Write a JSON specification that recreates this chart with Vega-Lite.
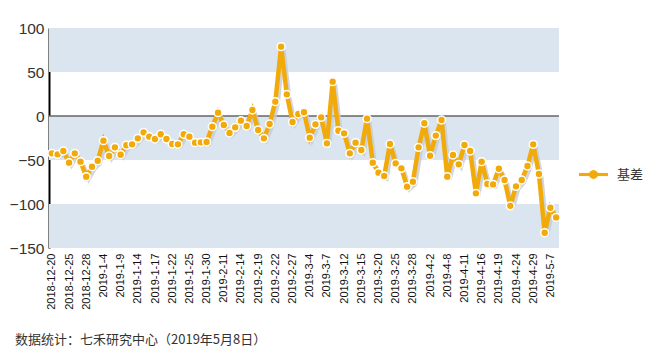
{
  "$schema": "https://vega.github.io/schema/vega-lite/v6.json",
  "width": 510,
  "height": 220,
  "autosize": {"type": "none"},
  "padding": {"left": 49, "top": 28, "right": 92, "bottom": 104},
  "background": "white",
  "config": {
    "view": {"stroke": null},
    "font": "Liberation Sans",
    "axisY": {
      "title": null,
      "values": [-150, -100, -50, 0, 50, 100],
      "labelFontSize": 15.5,
      "labelFontWeight": "normal",
      "labelColor": "#333333",
      "labelPadding": 5,
      "ticks": false,
      "grid": false,
      "domainColor": "#000000",
      "domainWidth": 2
    }
  },
  "title": {
    "text": "数据统计：七禾研究中心（2019年5月8日）",
    "orient": "bottom",
    "anchor": "start",
    "frame": "group",
    "offset": 25,
    "dx": -34,
    "font": "Noto Sans CJK SC",
    "fontSize": 13,
    "fontWeight": "normal",
    "color": "#333333"
  },
  "datasets": {
    "bands": [
      {"lo": 50, "hi": 100},
      {"lo": -50, "hi": 0},
      {"lo": -150, "hi": -100}
    ],
    "main": [
      {"d": "2018-12-20", "v": -42.4, "s": "基差"},
      {"d": "2018-12-21", "v": -43.6, "s": "基差"},
      {"d": "2018-12-24", "v": -39.8, "s": "基差"},
      {"d": "2018-12-25", "v": -53.0, "s": "基差"},
      {"d": "2018-12-26", "v": -42.4, "s": "基差"},
      {"d": "2018-12-27", "v": -51.9, "s": "基差"},
      {"d": "2018-12-28", "v": -68.9, "s": "基差"},
      {"d": "2019-1-2", "v": -57.6, "s": "基差"},
      {"d": "2019-1-3", "v": -50.8, "s": "基差"},
      {"d": "2019-1-4", "v": -28.0, "s": "基差"},
      {"d": "2019-1-7", "v": -45.5, "s": "基差"},
      {"d": "2019-1-8", "v": -35.6, "s": "基差"},
      {"d": "2019-1-9", "v": -43.9, "s": "基差"},
      {"d": "2019-1-10", "v": -33.3, "s": "基差"},
      {"d": "2019-1-11", "v": -32.2, "s": "基差"},
      {"d": "2019-1-14", "v": -25.4, "s": "基差"},
      {"d": "2019-1-15", "v": -18.6, "s": "基差"},
      {"d": "2019-1-16", "v": -23.5, "s": "基差"},
      {"d": "2019-1-17", "v": -26.1, "s": "基差"},
      {"d": "2019-1-18", "v": -20.8, "s": "基差"},
      {"d": "2019-1-21", "v": -26.1, "s": "基差"},
      {"d": "2019-1-22", "v": -31.8, "s": "基差"},
      {"d": "2019-1-23", "v": -32.2, "s": "基差"},
      {"d": "2019-1-24", "v": -20.8, "s": "基差"},
      {"d": "2019-1-25", "v": -23.5, "s": "基差"},
      {"d": "2019-1-28", "v": -30.3, "s": "基差"},
      {"d": "2019-1-29", "v": -29.9, "s": "基差"},
      {"d": "2019-1-30", "v": -29.5, "s": "基差"},
      {"d": "2019-1-31", "v": -12.1, "s": "基差"},
      {"d": "2019-2-1", "v": 3.8, "s": "基差"},
      {"d": "2019-2-11", "v": -10.2, "s": "基差"},
      {"d": "2019-2-12", "v": -19.3, "s": "基差"},
      {"d": "2019-2-13", "v": -12.9, "s": "基差"},
      {"d": "2019-2-14", "v": -5.3, "s": "基差"},
      {"d": "2019-2-15", "v": -11.4, "s": "基差"},
      {"d": "2019-2-18", "v": 6.8, "s": "基差"},
      {"d": "2019-2-19", "v": -15.9, "s": "基差"},
      {"d": "2019-2-20", "v": -25.4, "s": "基差"},
      {"d": "2019-2-21", "v": -9.1, "s": "基差"},
      {"d": "2019-2-22", "v": 16.3, "s": "基差"},
      {"d": "2019-2-25", "v": 78.8, "s": "基差"},
      {"d": "2019-2-26", "v": 24.6, "s": "基差"},
      {"d": "2019-2-27", "v": -6.8, "s": "基差"},
      {"d": "2019-2-28", "v": 2.3, "s": "基差"},
      {"d": "2019-3-1", "v": 4.2, "s": "基差"},
      {"d": "2019-3-4", "v": -24.6, "s": "基差"},
      {"d": "2019-3-5", "v": -9.5, "s": "基差"},
      {"d": "2019-3-6", "v": -1.5, "s": "基差"},
      {"d": "2019-3-7", "v": -31.1, "s": "基差"},
      {"d": "2019-3-8", "v": 39.0, "s": "基差"},
      {"d": "2019-3-11", "v": -16.7, "s": "基差"},
      {"d": "2019-3-12", "v": -19.7, "s": "基差"},
      {"d": "2019-3-13", "v": -42.4, "s": "基差"},
      {"d": "2019-3-14", "v": -30.3, "s": "基差"},
      {"d": "2019-3-15", "v": -38.6, "s": "基差"},
      {"d": "2019-3-18", "v": -3.0, "s": "基差"},
      {"d": "2019-3-19", "v": -53.0, "s": "基差"},
      {"d": "2019-3-20", "v": -64.4, "s": "基差"},
      {"d": "2019-3-21", "v": -68.2, "s": "基差"},
      {"d": "2019-3-22", "v": -31.8, "s": "基差"},
      {"d": "2019-3-25", "v": -53.8, "s": "基差"},
      {"d": "2019-3-26", "v": -59.5, "s": "基差"},
      {"d": "2019-3-27", "v": -80.3, "s": "基差"},
      {"d": "2019-3-28", "v": -74.6, "s": "基差"},
      {"d": "2019-3-29", "v": -35.6, "s": "基差"},
      {"d": "2019-4-1", "v": -8.3, "s": "基差"},
      {"d": "2019-4-2", "v": -45.1, "s": "基差"},
      {"d": "2019-4-3", "v": -22.3, "s": "基差"},
      {"d": "2019-4-4", "v": -4.5, "s": "基差"},
      {"d": "2019-4-8", "v": -68.9, "s": "基差"},
      {"d": "2019-4-9", "v": -44.3, "s": "基差"},
      {"d": "2019-4-10", "v": -54.9, "s": "基差"},
      {"d": "2019-4-11", "v": -33.0, "s": "基差"},
      {"d": "2019-4-12", "v": -39.8, "s": "基差"},
      {"d": "2019-4-15", "v": -87.9, "s": "基差"},
      {"d": "2019-4-16", "v": -51.9, "s": "基差"},
      {"d": "2019-4-17", "v": -77.3, "s": "基差"},
      {"d": "2019-4-18", "v": -77.7, "s": "基差"},
      {"d": "2019-4-19", "v": -60.0, "s": "基差"},
      {"d": "2019-4-22", "v": -72.7, "s": "基差"},
      {"d": "2019-4-23", "v": -102.1, "s": "基差"},
      {"d": "2019-4-24", "v": -79.9, "s": "基差"},
      {"d": "2019-4-25", "v": -72.7, "s": "基差"},
      {"d": "2019-4-26", "v": -56.8, "s": "基差"},
      {"d": "2019-4-29", "v": -32.2, "s": "基差"},
      {"d": "2019-4-30", "v": -65.9, "s": "基差"},
      {"d": "2019-5-6", "v": -132.6, "s": "基差"},
      {"d": "2019-5-7", "v": -104.2, "s": "基差"},
      {"d": "2019-5-8", "v": -115.2, "s": "基差"}
    ]
  },
  "layer": [
    {
      "data": {"name": "bands"},
      "mark": {"type": "rect", "color": "#dbe5f0"},
      "encoding": {
        "y": {"field": "lo", "type": "quantitative", "scale": {"domain": [-150, 100], "nice": false, "zero": false}, "title": null},
        "y2": {"field": "hi"}
      }
    },
    {
      "data": {"values": [{"z": 0}]},
      "mark": {"type": "rule", "color": "#666666", "strokeWidth": 1.5},
      "encoding": {
        "y": {"field": "z", "type": "quantitative", "title": null}
      }
    },
    {
      "data": {"name": "main"},
      "encoding": {
        "x": {
          "field": "d",
          "type": "ordinal",
          "sort": null,
          "scale": {"type": "point", "padding": 0.5},
          "axis": {
            "title": null,
            "values": ["2018-12-20", "2018-12-25", "2018-12-28", "2019-1-4", "2019-1-9", "2019-1-14", "2019-1-17", "2019-1-22", "2019-1-25", "2019-1-30", "2019-2-11", "2019-2-14", "2019-2-19", "2019-2-22", "2019-2-27", "2019-3-4", "2019-3-7", "2019-3-12", "2019-3-15", "2019-3-20", "2019-3-25", "2019-3-28", "2019-4-2", "2019-4-8", "2019-4-11", "2019-4-16", "2019-4-19", "2019-4-24", "2019-4-29", "2019-5-7"],
            "labelAngle": -90,
            "labelFontSize": 11,
            "labelFontWeight": "normal",
            "labelColor": "#111111",
            "labelPadding": 5,
            "ticks": false,
            "domain": false,
            "grid": false
          }
        },
        "y": {
          "field": "v",
          "type": "quantitative",
          "scale": {"domain": [-150, 100], "nice": false, "zero": false},
          "title": null
        }
      },
      "layer": [
        {
          "mark": {"type": "line", "color": "#c5ccd4", "strokeWidth": 4, "xOffset": 2.5, "yOffset": 2.5, "opacity": 0.8}
        },
        {
          "mark": {"type": "line", "color": "#f2aa0a", "strokeWidth": 4.5, "strokeJoin": "miter"}
        },
        {
          "mark": {"type": "point", "filled": true, "size": 62, "stroke": "white", "strokeWidth": 1.5, "opacity": 1},
          "encoding": {
            "color": {
              "field": "s",
              "type": "nominal",
              "scale": {"range": ["#f2aa0a"]},
              "legend": {
                "title": null,
                "orient": "none",
                "legendX": 529,
                "legendY": 131,
                "symbolType": "M-1,-0.14L-0.29,-0.14A0.32,0.32 0 0 1 0.29,-0.14L1,-0.14L1,0.14L0.29,0.14A0.32,0.32 0 0 1 -0.29,0.14L-1,0.14Z",
                "symbolSize": 900,
                "symbolStrokeWidth": 1,
                "symbolStrokeColor": "white",
                "symbolFillColor": "#f2aa0a",
                "labelFontSize": 13,
                "labelFont": "Noto Sans CJK SC",
                "labelColor": "#333333",
                "labelOffset": 8
              }
            }
          }
        }
      ]
    }
  ]
}
